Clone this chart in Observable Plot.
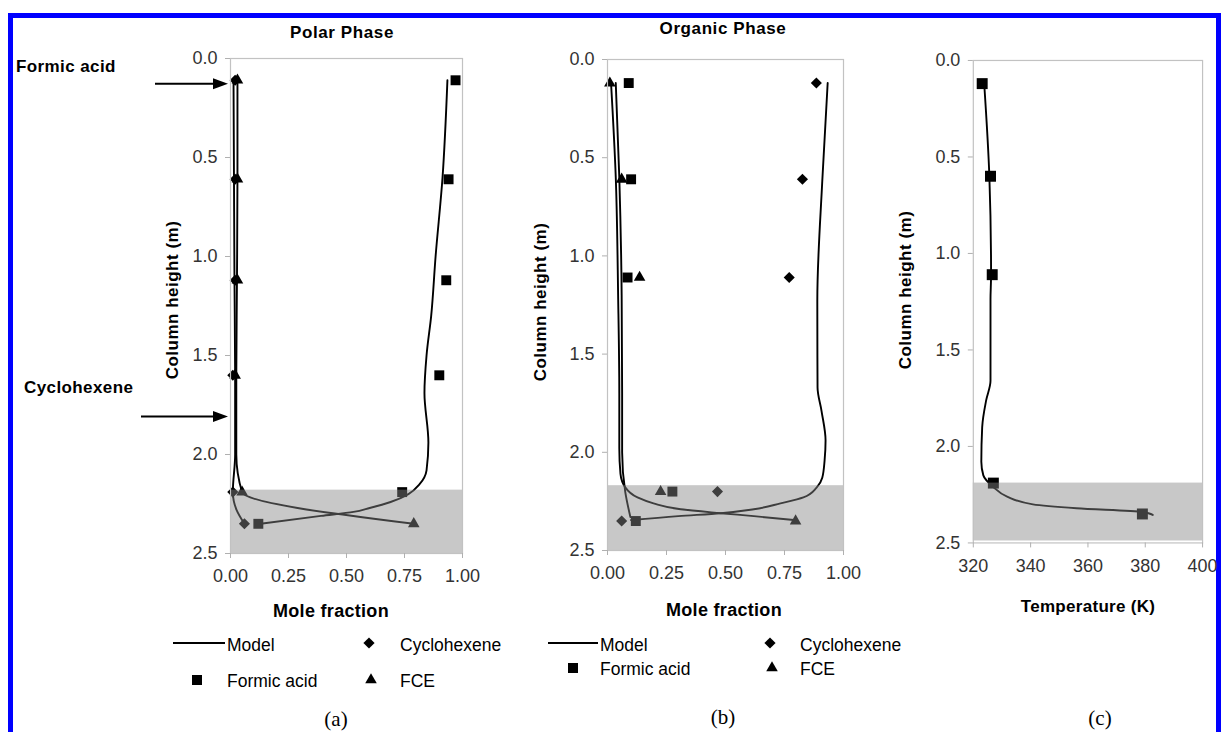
<!DOCTYPE html>
<html>
<head>
<meta charset="utf-8">
<script src="https://cdn.jsdelivr.net/npm/d3@7"></script>
<script src="https://cdn.jsdelivr.net/npm/@observablehq/plot@0.6"></script>
<style>
  html, body { margin: 0; padding: 0; background: #fff; }
  body { width: 1226px; height: 732px; overflow: hidden; position: relative; font-family: "Liberation Sans", Arial, sans-serif; }
  #frame { position: absolute; left: 8px; top: 13px; width: 1203px; height: 740px; border: 5px solid #0000ff; box-sizing: content-box; }
  .panel { position: absolute; }
  #overlay { position: absolute; left: 0; top: 0; pointer-events: none; }
</style>
</head>
<body>
<div id="frame"></div>
<div id="pa" class="panel"></div>
<div id="pb" class="panel"></div>
<div id="pc" class="panel"></div>
<svg id="overlay" width="1226" height="732"></svg>
<script>
// ---------------- DATA ----------------
const heightTicks = [0, 0.5, 1.0, 1.5, 2.0, 2.5];
const fractionTicks = [0, 0.25, 0.5, 0.75, 1.0];
const temperatureTicks = [320, 340, 360, 380, 400];

// (a) Polar phase — measured points
const polarHeights   = [0.11, 0.61, 1.12, 1.60, 2.19, 2.35];
const polarFormic    = [0.97, 0.94, 0.93, 0.90, 0.74, 0.12];
const polarCyclo     = [0.02, 0.02, 0.02, 0.01, 0.01, 0.06];
const polarFCE       = [0.03, 0.03, 0.03, 0.02, 0.05, 0.79];
// (a) model profiles [height, mole fraction]
const polarModelFormic = [[0.11,0.935],[0.6,0.914],[1.0,0.884],[1.3,0.865],[1.5,0.845],[1.69,0.836],[1.94,0.853],[2.08,0.845],[2.15,0.815],[2.20,0.767],[2.24,0.69],[2.27,0.60],[2.29,0.53],[2.31,0.39],[2.35,0.13]];
const polarModelFCE    = [[0.11,0.03],[0.6,0.03],[1.1,0.028],[1.6,0.025],[2.0,0.025],[2.19,0.05],[2.35,0.79]];
const polarModelCyclo  = [[0.11,0.013],[0.6,0.015],[1.1,0.017],[1.6,0.02],[2.0,0.02],[2.19,0.01],[2.28,0.026],[2.35,0.06]];

// (b) Organic phase — measured points
const organicHeights = [0.12, 0.61, 1.11, 2.20, 2.35];
const organicFormic  = [0.09, 0.10, 0.085, 0.275, 0.12];
const organicCyclo   = [0.885, 0.826, 0.77, 0.466, 0.06];
const organicFCE     = [0.01, 0.06, 0.136, 0.225, 0.797];
// (b) model profiles [height, mole fraction]
const organicModelCyclo  = [[0.12,0.933],[0.62,0.91],[1.23,0.889],[1.67,0.89],[1.79,0.907],[1.94,0.924],[2.04,0.92],[2.13,0.91],[2.18,0.886],[2.23,0.83],[2.26,0.733],[2.29,0.62],[2.31,0.48],[2.325,0.3],[2.345,0.1]];
const organicModelFCE    = [[0.12,0.015],[0.6,0.035],[1.2,0.045],[1.7,0.05],[1.98,0.05],[2.11,0.055],[2.18,0.076],[2.23,0.127],[2.26,0.195],[2.29,0.31],[2.31,0.48],[2.325,0.62],[2.345,0.79]];
const organicModelFormic = [[0.12,0.035],[0.6,0.05],[1.2,0.06],[1.7,0.062],[2.0,0.062],[2.2,0.075],[2.33,0.097]];

// (c) Temperature
const tempHeights = [0.12, 0.60, 1.11, 2.19, 2.35];
const tempValues  = [323.1, 326.0, 326.6, 327.0, 379.0];
const tempModel   = [[0.12,323.8],[0.6,325.6],[1.11,326.2],[1.24,326.0],[1.66,326.0],[1.76,324.5],[1.90,323.1],[2.08,322.8],[2.15,323.5],[2.21,327.0],[2.26,331.8],[2.30,340.8],[2.32,356],[2.34,379],[2.355,382.6]];

// reboiler (shaded) zones [top, bottom]
const bandA = [2.18, 2.5];
const bandB = [2.17, 2.5];
const bandC = [2.19, 2.49];

// feed locations (column height, m)
const feedLabels  = ["Formic acid", "Cyclohexene"];
const feedHeights = [0.13, 1.81];

// ---------------- HELPERS ----------------
const F = "'Liberation Sans', Arial, sans-serif";
function pts(heights, values) { return heights.map((h, i) => ({h, v: values[i]})); }
function modelLine(arr) {
  return Plot.line(arr, {x: d => d[1], y: d => d[0], curve: "monotone-y", stroke: "#000", strokeWidth: 1.9});
}
function dots(data, symbol, r) {
  return Plot.dot(data, {x: "v", y: "h", symbol, r, fill: "#000", stroke: "none"});
}

function panel(el, {left, top, pw, ph, xDomain, xTicks, xFormat, band, marks}) {
  const mL = 62, mT = 10, mR = 24, mB = 40;
  const chart = Plot.plot({
    width: mL + pw + mR, height: mT + ph + mB,
    marginLeft: mL, marginTop: mT, marginRight: mR, marginBottom: mB,
    x: {domain: xDomain},
    y: {domain: [0, 2.5], reverse: true},
    style: {fontFamily: F, fontSize: "18px", color: "#333", background: "transparent", overflow: "visible"},
    marks: [
      ...marks,
      Plot.rect([band], {x1: xDomain[0], x2: xDomain[1], y1: d => d[0], y2: d => d[1], fill: "#878787", fillOpacity: 0.46}),
      Plot.frame({stroke: "#c2c2c2", strokeWidth: 1.2}),
      Plot.axisX({ticks: xTicks, tickFormat: xFormat, tickSize: 5, tickPadding: 11, label: null, stroke: "#b0b0b0", fill: "#333", fontSize: 18}),
      Plot.axisY({ticks: heightTicks, tickFormat: d3.format(".1f"), tickSize: 5, tickPadding: 8, label: null, stroke: "#b0b0b0", fill: "#333", fontSize: 18})
    ]
  });
  const div = document.getElementById(el);
  div.style.left = (left - mL) + "px";
  div.style.top = (top - mT) + "px";
  div.appendChild(chart);
  return {chart, ox: left - mL, oy: top - mT};
}

// ---------------- PANELS ----------------
const A = panel("pa", {
  left: 230, top: 58, pw: 232, ph: 495,
  xDomain: [0, 1], xTicks: fractionTicks, xFormat: d3.format(".2f"), band: bandA,
  marks: [
    modelLine(polarModelCyclo), modelLine(polarModelFCE), modelLine(polarModelFormic),
    dots(pts(polarHeights, polarFormic), "square", 5.6),
    dots(pts(polarHeights, polarCyclo), "diamond2", 5),
    dots(pts(polarHeights, polarFCE), "triangle", 4.3)
  ]
});
const B = panel("pb", {
  left: 607, top: 59, pw: 236, ph: 491,
  xDomain: [0, 1], xTicks: fractionTicks, xFormat: d3.format(".2f"), band: bandB,
  marks: [
    modelLine(organicModelFormic), modelLine(organicModelFCE), modelLine(organicModelCyclo),
    dots(pts(organicHeights, organicFormic), "square", 5.6),
    dots(pts(organicHeights, organicCyclo), "diamond2", 5),
    dots(pts(organicHeights, organicFCE), "triangle", 4.3)
  ]
});
const C = panel("pc", {
  left: 973, top: 60, pw: 230, ph: 484,
  xDomain: [320, 400], xTicks: temperatureTicks, xFormat: d3.format("d"), band: bandC,
  marks: [
    Plot.line(tempModel, {x: d => d[1], y: d => d[0], curve: "monotone-y", stroke: "#000", strokeWidth: 1.9}),
    dots(pts(tempHeights, tempValues), "square", 6.2)
  ]
});

// ---------------- OVERLAY (titles, labels, legends, arrows) ----------------
const ov = d3.select("#overlay");
function txt(x, y, s, o = {}) {
  const t = ov.append("text").attr("x", x).attr("y", y).text(s)
    .attr("font-family", o.family || F).attr("font-size", o.size || 17)
    .attr("font-weight", o.bold ? "bold" : "normal").attr("fill", o.fill || "#000")
    .attr("text-anchor", o.anchor || "start");
  if (o.ls) t.attr("letter-spacing", o.ls);
  if (o.rot) t.attr("transform", `rotate(-90,${x},${y})`);
  return t;
}
txt(342, 38, "Polar Phase", {bold: true, anchor: "middle", ls: 0.6});
txt(723, 34, "Organic Phase", {bold: true, anchor: "middle", ls: 0.6});

// y-axis titles
txt(178, 300, "Column height (m)", {bold: true, anchor: "middle", rot: true, ls: 0.5});
txt(546, 302, "Column height (m)", {bold: true, anchor: "middle", rot: true, ls: 0.5});
txt(911, 290, "Column height (m)", {bold: true, anchor: "middle", rot: true, ls: 0.5});
// x-axis titles
txt(331, 617, "Mole fraction", {bold: true, anchor: "middle", size: 18, ls: 0.3});
txt(724, 616, "Mole fraction", {bold: true, anchor: "middle", size: 18, ls: 0.3});
txt(1088, 612, "Temperature (K)", {bold: true, anchor: "middle", size: 17, ls: 0.3});

// feed arrows, positioned through panel (a)'s y scale
const ya = A.chart.scale("y"), xa = A.chart.scale("x");
const tipX = A.ox + xa.apply(0) - 2;
const arrowStart = [155, 141];
const labelPos = [[16, 72], [24, 393]];
feedHeights.forEach((h, i) => {
  const y = A.oy + ya.apply(h);
  ov.append("line").attr("x1", arrowStart[i]).attr("x2", tipX - 12).attr("y1", y).attr("y2", y)
    .attr("stroke", "#000").attr("stroke-width", 2);
  ov.append("polygon").attr("points", `${tipX},${y} ${tipX - 15},${y - 5.5} ${tipX - 15},${y + 5.5}`).attr("fill", "#000");
  txt(labelPos[i][0], labelPos[i][1], feedLabels[i], {bold: true, ls: 0.4});
});

// legends
const symSquare = d3.symbol(d3.symbolSquare, 100)();
const symDiamond = d3.symbol(d3.symbolDiamond2, 80)();
const symTriangle = d3.symbol(d3.symbolTriangle, 58)();
function legend(o) {
  ov.append("line").attr("x1", o.lx1).attr("x2", o.lx2).attr("y1", o.r1).attr("y2", o.r1).attr("stroke", "#000").attr("stroke-width", 2);
  txt(o.lx2 + 2, o.r1 + 8, "Model", {size: 17.5});
  ov.append("path").attr("d", symDiamond).attr("transform", `translate(${o.dx},${o.r1})`).attr("fill", "#000");
  txt(o.tx2, o.r1 + 8, "Cyclohexene", {size: 17.5});
  ov.append("path").attr("d", symSquare).attr("transform", `translate(${o.sx},${o.r2})`).attr("fill", "#000");
  txt(o.lx2 + 2, o.r2 + 7, "Formic acid", {size: 17.5});
  ov.append("path").attr("d", symTriangle).attr("transform", `translate(${o.dx + 2},${o.r2})`).attr("fill", "#000");
  txt(o.tx2, o.r2 + 7, "FCE", {size: 17.5});
}
legend({lx1: 173, lx2: 225, r1: 643, r2: 680, dx: 369, tx2: 400, sx: 197});
legend({lx1: 548, lx2: 598, r1: 643, r2: 668, dx: 770, tx2: 800, sx: 573});

// captions
const serif = "'Liberation Serif', 'Times New Roman', serif";
txt(336, 726, "(a)", {family: serif, size: 21, anchor: "middle"});
txt(723, 724, "(b)", {family: serif, size: 21, anchor: "middle"});
txt(1100, 725, "(c)", {family: serif, size: 21, anchor: "middle"});
</script>
</body>
</html>
